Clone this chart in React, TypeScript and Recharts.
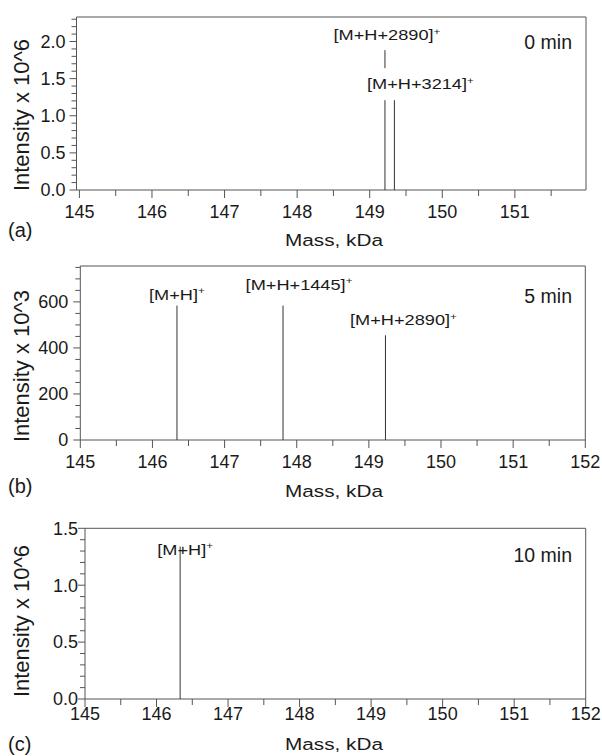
import React from "react";
import { ComposedChart, Line, XAxis, YAxis, ReferenceArea, LabelList } from "recharts";

// mass axis, kDa
const massTicks = [145, 145.5, 146, 146.5, 147, 147.5, 148, 148.5, 149, 149.5, 150, 150.5, 151, 151.5, 152];

// (a) 0 min, intensity x 10^6
const massA = [149.21, 149.34];
const intensityA = [1.21, 1.21];
const labelsA = ["[M+H+2890]", "[M+H+3214]"];
const yTicksA = [0, 0.1, 0.2, 0.3, 0.4, 0.5, 0.6, 0.7, 0.8, 0.9, 1, 1.1, 1.2, 1.3, 1.4, 1.5, 1.6, 1.7, 1.8, 1.9, 2, 2.1, 2.2, 2.3];
const yLabelsA = [0, 0.5, 1, 1.5, 2];

// (b) 5 min, intensity x 10^3
const massB = [146.34, 147.81, 149.23];
const intensityB = [584, 584, 455];
const labelsB = ["[M+H]", "[M+H+1445]", "[M+H+2890]"];
const yTicksB = [0, 50, 100, 150, 200, 250, 300, 350, 400, 450, 500, 550, 600, 650, 700, 750];
const yLabelsB = [0, 200, 400, 600];

// (c) 10 min, intensity x 10^6
const massC = [146.33];
const intensityC = [1.34];
const labelsC = ["[M+H]"];
const yTicksC = [0, 0.1, 0.2, 0.3, 0.4, 0.5, 0.6, 0.7, 0.8, 0.9, 1, 1.1, 1.2, 1.3, 1.4, 1.5];
const yLabelsC = [0, 0.5, 1, 1.5];

const INK = "#1a1a1a";
const AXIS = "#555";
const PEAK = "#333";
const FONT = "'Liberation Sans', Arial, sans-serif";

const panels = [
  {
    tag: "(a)", time: "0 min", yTitle: "Intensity x 10^6",
    mass: massA, intensity: intensityA, labels: labelsA,
    yTicks: yTicksA, yLabels: yLabelsA, yMax: 2.33, xDomain: [144.96, 151.98], decimals: 1,
    top: 0, height: 250, margin: { top: 17, right: 16, left: 6.5, bottom: 30 },
    xLabelDy: 28, yLabelGap: 11, yTitleY: 115, xTitleY: 246, tagY: 237, timeY: 49,
    labelPos: [{ dx: 2, dy: -60, leader: [-50, -32] }, { dx: 26, dy: -11 }],
  },
  {
    tag: "(b)", time: "5 min", yTitle: "Intensity x 10^3",
    mass: massB, intensity: intensityB, labels: labelsB,
    yTicks: yTicksB, yLabels: yLabelsB, yMax: 756, xDomain: [145, 152], decimals: 0,
    top: 250, height: 250, margin: { top: 16, right: 16.7, left: 10.3, bottom: 30 },
    xLabelDy: 28, yLabelGap: 12, yTitleY: 116, xTitleY: 247, tagY: 243, timeY: 53,
    labelPos: [{ dx: 0, dy: -6 }, { dx: 16, dy: -16 }, { dx: 18, dy: -10 }],
  },
  {
    tag: "(c)", time: "10 min", yTitle: "Intensity x 10^6",
    mass: massC, intensity: intensityC, labels: labelsC,
    yTicks: yTicksC, yLabels: yLabelsC, yMax: 1.5, xDomain: [145, 152], decimals: 1,
    top: 500, height: 256, margin: { top: 28.3, right: 16.3, left: 15, bottom: 27 },
    xLabelDy: 21, yLabelGap: 7, yTitleY: 121, xTitleY: 250, tagY: 251, timeY: 62,
    labelPos: [{ dx: 5, dy: 8 }],
  },
];

const PeakLabel = (props: any, text: string, pos: any) => {
  const vb = props.viewBox || {};
  const x = props.x ?? vb.x;
  const y = props.y ?? vb.y;
  if (!(Number(props.value) > 0) || x == null || y == null) return null;
  return (
    <g>
      {pos.leader && (
        <line x1={x} x2={x} y1={y + pos.leader[0]} y2={y + pos.leader[1]} stroke={PEAK} strokeWidth={1} />
      )}
      <text
        transform={`translate(${x + pos.dx},${y + pos.dy}) scale(1.3,1)`}
        textAnchor="middle"
        fontSize={14}
        fill={INK}
        fontFamily={FONT}
      >
        {text}
        <tspan dy={-5.5} fontSize={9}>+</tspan>
      </text>
    </g>
  );
};

const Panel = ({ p }: { p: any }) => {
  const xTicks = massTicks.filter((t) => t >= p.xDomain[0] && t <= p.xDomain[1]);
  const isMajorY = (v: number) => p.yLabels.some((l: number) => Math.abs(l - v) < 1e-9);

  const xTick = ({ x, y, payload }: any) => {
    const v = payload.value;
    const major = Number.isInteger(v);
    return (
      <g>
        <line x1={x} x2={x} y1={y} y2={y + (major ? 8 : 6)} stroke={AXIS} />
        {major && (
          <text x={x} y={y + p.xLabelDy} textAnchor="middle" fontSize={18} fill={INK} fontFamily={FONT}>
            {v}
          </text>
        )}
      </g>
    );
  };

  const yTick = ({ x, y, payload }: any) => {
    const v = payload.value;
    const major = isMajorY(v);
    return (
      <g>
        <line x1={x - (major ? 7 : 5)} x2={x} y1={y} y2={y} stroke={AXIS} />
        {major && (
          <text x={x - p.yLabelGap} y={y} dy="0.35em" textAnchor="end" fontSize={18} fill={INK} fontFamily={FONT}>
            {v.toFixed(p.decimals)}
          </text>
        )}
      </g>
    );
  };

  const overlay = () => (
    <g fontFamily={FONT} fill={INK}>
      <text transform={`translate(29,${p.yTitleY}) rotate(-90)`} textAnchor="middle" fontSize={22}>
        {p.yTitle}
      </text>
      <text transform={`translate(334,${p.xTitleY}) scale(1.22,1)`} textAnchor="middle" fontSize={17}>
        Mass, kDa
      </text>
      <text x={8} y={p.tagY} fontSize={20}>{p.tag}</text>
      <text x={572} y={p.timeY} textAnchor="end" fontSize={19.5}>{p.time}</text>
    </g>
  );

  return (
    <div style={{ position: "absolute", left: 0, top: p.top }}>
      <ComposedChart width={602} height={p.height} margin={p.margin}>
        <XAxis
          type="number"
          dataKey="x"
          domain={p.xDomain}
          allowDataOverflow
          ticks={xTicks}
          interval={0}
          tickSize={0}
          tickMargin={0}
          tickLine={false}
          axisLine={false}
          height={30}
          tick={xTick}
          label={overlay}
        />
        <YAxis
          type="number"
          dataKey="y"
          domain={[0, p.yMax]}
          allowDataOverflow
          ticks={p.yTicks}
          interval={0}
          tickSize={0}
          tickMargin={0}
          tickLine={false}
          axisLine={false}
          width={70}
          tick={yTick}
        />
        <ReferenceArea
          x1={p.xDomain[0]}
          x2={p.xDomain[1]}
          y1={0}
          y2={p.yMax}
          fill="none"
          fillOpacity={0}
          stroke={AXIS}
          strokeWidth={1}
          ifOverflow="visible"
        />
        {p.mass.map((m: number, i: number) => (
          <Line
            key={i}
            data={[
              { x: m, y: 0 },
              { x: m, y: p.intensity[i] },
            ]}
            dataKey="y"
            stroke={PEAK}
            strokeWidth={1}
            dot={false}
            activeDot={false}
            isAnimationActive={false}
            legendType="none"
          >
            <LabelList dataKey="y" content={(lp: any) => PeakLabel(lp, p.labels[i], p.labelPos[i])} />
          </Line>
        ))}
      </ComposedChart>
    </div>
  );
}

export default function App() {
  return (
    <div style={{ position: "absolute", left: 0, top: 0, width: 602, height: 756, background: "#fff", fontFamily: FONT }}>
      {panels.map((p, i) => (
        <Panel key={i} p={p} />
      ))}
    </div>
  );
}
